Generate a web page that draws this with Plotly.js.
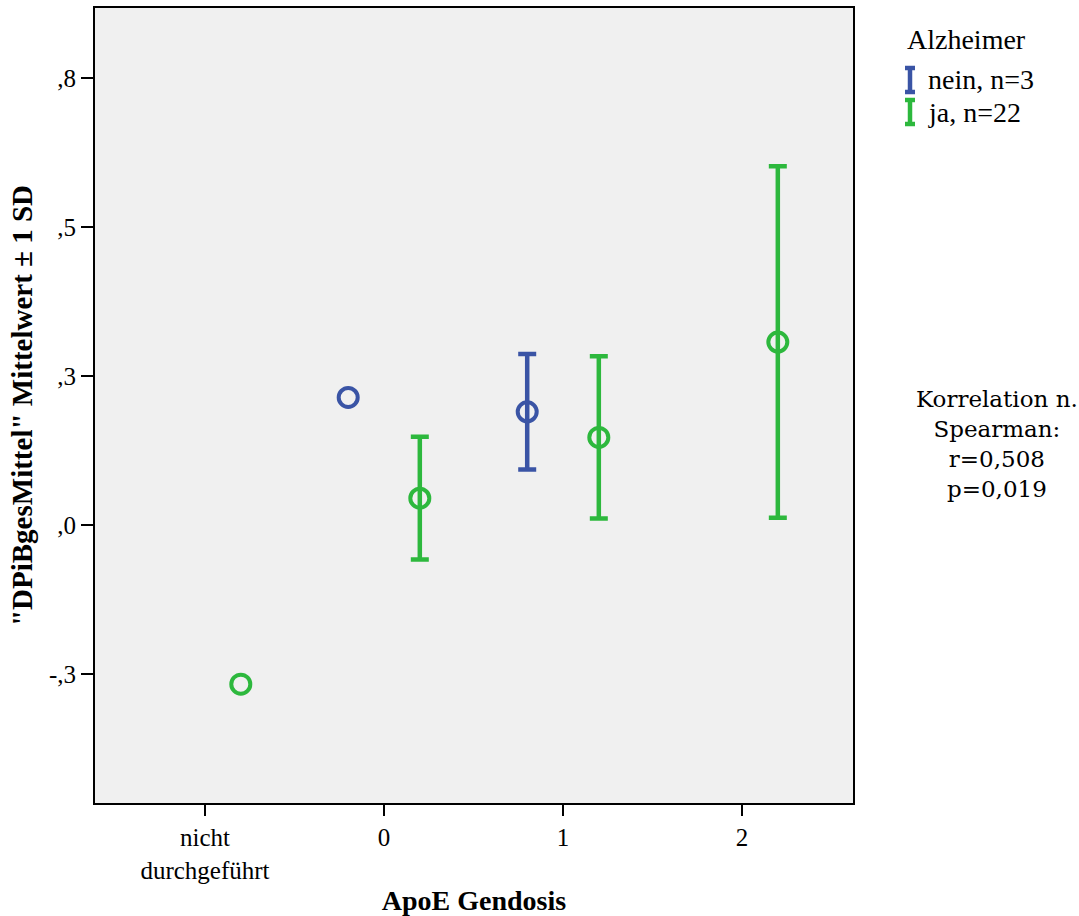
<!DOCTYPE html>
<html>
<head>
<meta charset="utf-8">
<script src="https://cdn.plot.ly/plotly-3.0.1.min.js"></script>
<style>html,body{margin:0;padding:0;background:#fff;}#chart{width:1079px;height:916px;}</style>
</head>
<body>
<div id="chart"></div>
<script>
// ---- data ----
const categories = ["nicht<br>durchgeführt", "0", "1", "2"];
const groups = ["nein, n=3", "ja, n=22"];
// nein (Alzheimer = nein): category index, mean, SD
const neinCat = [1, 2];
const neinMean = [0.214, 0.190];
const neinSD = [NaN, 0.097];
// ja (Alzheimer = ja)
const jaCat = [0, 1, 2, 3];
const jaMean = [-0.267, 0.045, 0.147, 0.307];
const jaSD = [NaN, 0.103, 0.136, 0.295];
// y-axis ticks (SPSS rounded labels)
const yTickVals = [0.75, 0.5, 0.25, 0, -0.25];
const yTickText = [",8", ",5", ",3", ",0", "-,3"];
const corrText = ["Korrelation n.", "Spearman:", "r=0,508", "p=0,019"];

const blue = "#3A54A5";
const green = "#2DB83D";
const serif = "Liberation Serif, Times New Roman, serif";
const serif2 = "DejaVu Serif, serif";

const W = 1079, H = 916;
const M = {l: 95, r: 226, t: 8, b: 113};
const pw = W - M.l - M.r, ph = H - M.t - M.b;
const px = x => (x - M.l) / pw;
const py = y => (H - M.b - y) / ph;

const offset = 0.2;
function trace(cats, means, sds, color, name, dx) {
  return {
    type: "scatter", mode: "markers", name: name,
    x: cats.map(c => c + dx), y: means,
    marker: {symbol: "circle-open", size: 19, color: color, line: {width: 4, color: color}},
    error_y: {type: "data", array: sds, symmetric: true, color: color, thickness: 4.5, width: 9},
    showlegend: false, hoverinfo: "x+y"
  };
}
const data = [
  trace(neinCat, neinMean, neinSD, blue, groups[0], -offset),
  trace(jaCat, jaMean, jaSD, green, groups[1], offset)
];

// manual legend (I-bar symbols)
const shapes = [];
const annotations = [];
function ibar(cx, cy, color) {
  const h = 12, w = 5;
  const s = {xref: "paper", yref: "paper", type: "line", line: {color: color, width: 4.5}};
  shapes.push(Object.assign({}, s, {x0: px(cx), x1: px(cx), y0: py(cy - h), y1: py(cy + h)}));
  shapes.push(Object.assign({}, s, {x0: px(cx - w), x1: px(cx + w), y0: py(cy - h), y1: py(cy - h)}));
  shapes.push(Object.assign({}, s, {x0: px(cx - w), x1: px(cx + w), y0: py(cy + h), y1: py(cy + h)}));
}
annotations.push({xref: "paper", yref: "paper", x: px(905), y: py(40), xanchor: "left", yanchor: "middle",
  text: "Alzheimer", showarrow: false, font: {family: serif, size: 28, color: "#000"}});
ibar(910, 80, blue);
ibar(910, 112, green);
annotations.push({xref: "paper", yref: "paper", x: px(926), y: py(80), xanchor: "left", yanchor: "middle",
  text: groups[0], showarrow: false, font: {family: serif, size: 28, color: "#000"}});
annotations.push({xref: "paper", yref: "paper", x: px(926), y: py(113), xanchor: "left", yanchor: "middle",
  text: groups[1], showarrow: false, font: {family: serif, size: 28, color: "#000"}});
annotations.push({xref: "paper", yref: "paper", x: px(997), y: py(444), xanchor: "center", yanchor: "middle",
  text: corrText.join("<br>"), align: "center", showarrow: false, font: {family: serif2, size: 23, color: "#000"}});

const layout = {
  width: W, height: H,
  margin: M,
  paper_bgcolor: "#ffffff",
  plot_bgcolor: "#F0F0F0",
  font: {family: serif, size: 24, color: "#000"},
  showlegend: false,
  xaxis: {
    range: [-0.6145, 3.62],
    tickvals: [0, 1, 2, 3], ticktext: categories,
    ticks: "outside", ticklen: 11, tickwidth: 2, tickcolor: "#000",
    showline: true, linecolor: "#000", linewidth: 2, mirror: true,
    showgrid: false, zeroline: false,
    tickfont: {family: serif, size: 25, color: "#000"},
    title: {text: "ApoE Gendosis", font: {family: serif, size: 28, color: "#000", weight: "bold"}, standoff: 22}
  },
  yaxis: {
    range: [-0.4664, 0.8674],
    tickvals: yTickVals, ticktext: yTickText,
    ticks: "outside", ticklen: 12, tickwidth: 2, tickcolor: "#000",
    showline: true, linecolor: "#000", linewidth: 2, mirror: true,
    showgrid: false, zeroline: false,
    tickfont: {family: serif, size: 25, color: "#000"},
    title: {text: "\"DPiBgesMittel\" Mittelwert ± 1 SD", font: {family: serif, size: 29, color: "#000", weight: "bold"}, standoff: 8}
  },
  shapes: shapes,
  annotations: annotations
};
Plotly.newPlot("chart", data, layout, {displayModeBar: false, staticPlot: true});
</script>
</body>
</html>
